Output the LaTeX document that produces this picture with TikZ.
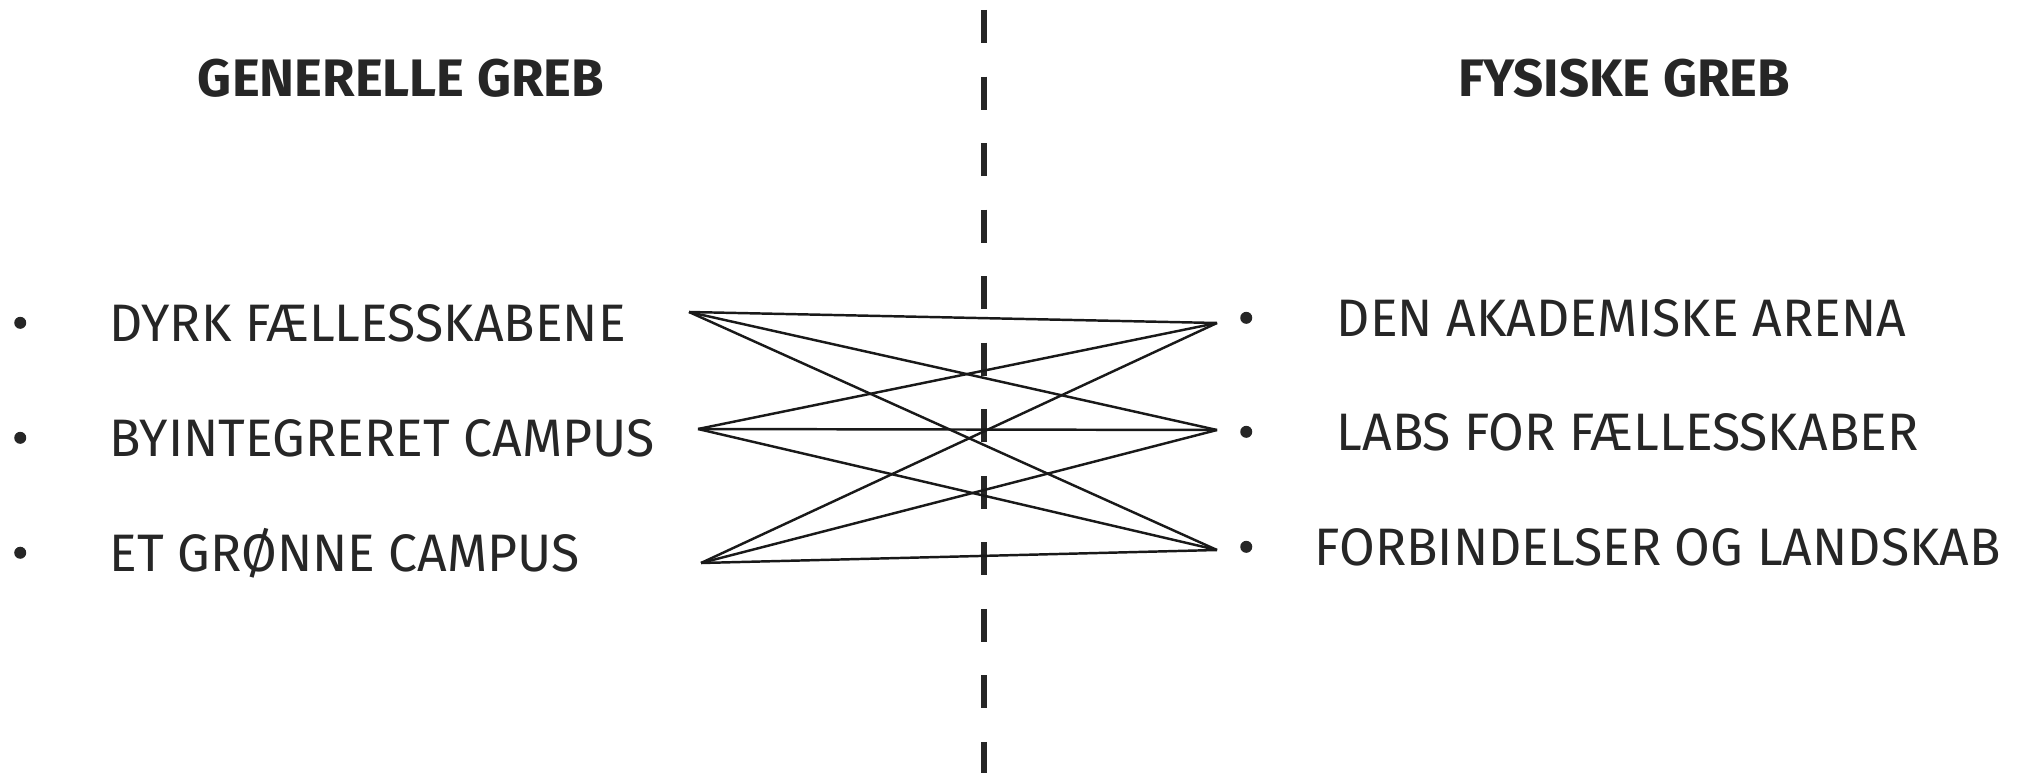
\documentclass[tikz,border=0pt]{standalone}
\usepackage{fontspec}
\setmainfont{Fira Sans}[FakeStretch=0.98, BoldFeatures={FakeStretch=1.0}]
\usetikzlibrary{positioning}

\begin{document}
\begin{tikzpicture}[
        x=0.01cm, y=-0.01cm,
        font=\fontsize{15}{18}\selectfont,
        overskrift/.style={font=\fontsize{15}{18}\selectfont\bfseries, text=black!85, inner sep=0pt, anchor=base},
        punkt/.style={anchor=base west, inner sep=0pt, text=black!85},
        prik/.style={circle, fill=black!85, inner sep=0pt, minimum size=0.12cm},
        forbindelse/.style={line width=0.7pt, black!90},
        skillelinje/.style={line width=1.7pt, black!85, dash pattern=on 0.33cm off 0.335cm}
    ]
    \useasboundingbox (0,0) rectangle (2024,773);

    % OVERSKRIFTER
    \node[overskrift] (generelle) at (401,97) {GENERELLE GREB};
    \node[overskrift] (fysiske) at (1624,97) {FYSISKE GREB};

    % SKILLELINJE
    \coordinate (top) at (984,10);
    \coordinate (bund) at (984,773);
    \draw[skillelinje] (top) -- (bund);

    % --- GENERELLE GREB (venstre) ---
    \node[punkt] (dyrk) at (109,341) {DYRK FÆLLESSKABENE};
    \node[punkt] (byint) at (109,456) {BYINTEGRERET CAMPUS};
    \node[punkt] (groen) at (109,571) {ET GRØNNE CAMPUS};
    \node[prik, left=0.82cm of dyrk] (b1) {};
    \node[prik, left=0.82cm of byint] (b2) {};
    \node[prik, left=0.82cm of groen] (b3) {};

    % --- FYSISKE GREB (hoejre) ---
    \node[punkt] (arena) at (1336,336) {DEN AKADEMISKE ARENA};
    \node[punkt] (labs) at (1336,450) {LABS FOR FÆLLESSKABER};
    \node[punkt] (landskab) at (1314,565) {FORBINDELSER OG LANDSKAB};
    \node[prik, left=0.83cm of arena] (b4) {};
    \node[prik, left=0.83cm of labs] (b5) {};
    \node[prik, left=0.61cm of landskab] (b6) {};

    % --- FORBINDELSER ---
    \coordinate (v1) at (689,312);
    \coordinate (v2) at (698,429);
    \coordinate (v3) at (701,563);
    \coordinate (h1) at (1217,323);
    \coordinate (h2) at (1217,430);
    \coordinate (h3) at (1217,550);
    \foreach \a in {1,2,3}
        \foreach \b in {1,2,3}
            \draw[forbindelse] (v\a) -- (h\b);

\end{tikzpicture}
\end{document}
